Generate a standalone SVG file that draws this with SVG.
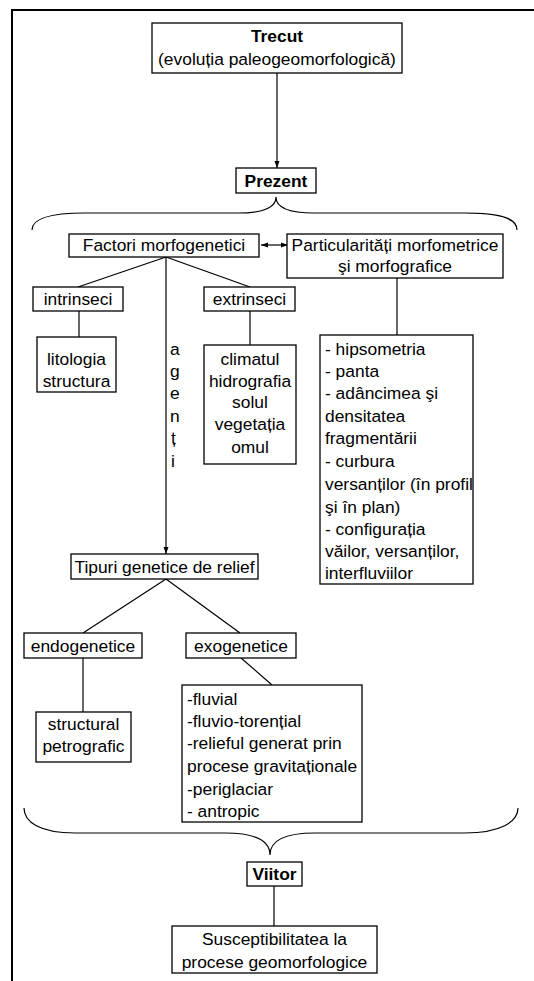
<svg xmlns="http://www.w3.org/2000/svg" width="534" height="981" viewBox="0 0 534 981">
<defs>
<style>
.box{fill:#fff;stroke:#000;stroke-width:1.3}
.t{font-family:"Liberation Sans",Arial,sans-serif;font-size:17.4px;fill:#000}
.c{text-anchor:middle}
.b{font-weight:bold}
.ln{stroke:#000;stroke-width:1.2;fill:none}
</style>
<marker id="ah" markerUnits="userSpaceOnUse" markerWidth="7" markerHeight="6" refX="7" refY="3" orient="auto-start-reverse">
<path d="M0,0.5 L7,3 L0,5.5 z" fill="#000"/>
</marker>
</defs>
<rect width="534" height="981" fill="#fff"/>
<g id="frame">
<path d="M12,981 L12,10 L534,10" fill="none" stroke="#000" stroke-width="2"/>
</g>
<g id="connectors">
<line class="ln" x1="277" y1="73" x2="277" y2="168" marker-end="url(#ah)"/>
<path class="ln" d="M32,230 C32,218 50,213 85,213 L238,213 C262,213 276,208 276,197 C276,208 290,213 314,213 L465,213 C500,213 517,218 517,230"/>
<line class="ln" x1="261" y1="245" x2="288" y2="245" marker-start="url(#ah)" marker-end="url(#ah)"/>
<line class="ln" x1="166" y1="257" x2="78" y2="287"/>
<line class="ln" x1="166" y1="257" x2="250" y2="287"/>
<line class="ln" x1="166" y1="257" x2="166" y2="554" marker-end="url(#ah)"/>
<line class="ln" x1="79" y1="311" x2="79" y2="337"/>
<line class="ln" x1="250" y1="311" x2="250" y2="345"/>
<line class="ln" x1="397" y1="278" x2="397" y2="335"/>
<line class="ln" x1="166" y1="579" x2="83" y2="633"/>
<line class="ln" x1="166" y1="579" x2="240" y2="633"/>
<line class="ln" x1="83" y1="658" x2="83" y2="712"/>
<line class="ln" x1="241" y1="658" x2="272" y2="685"/>
<path class="ln" d="M24,808 C24,822 40,833 75,833 L225,833 C255,833 270,840 270,855 C270,840 285,833 315,833 L465,833 C500,833 518,822 518,808"/>
<line class="ln" x1="274" y1="886" x2="274" y2="926"/>
</g>
<g id="trecut">
<rect class="box" x="152" y="23" width="250" height="50"/>
<text class="t c b" x="277" y="42">Trecut</text>
<text class="t c" x="277" y="65">(evoluția paleogeomorfologică)</text>
</g>
<g id="prezent">
<rect class="box" x="236" y="168" width="80" height="25"/>
<text class="t c b" x="276" y="187">Prezent</text>
</g>
<g id="factori">
<rect class="box" x="69" y="234" width="190" height="23"/>
<text class="t c" x="164" y="251">Factori morfogenetici</text>
</g>
<g id="particularitati">
<rect class="box" x="287" y="234" width="216" height="44"/>
<text class="t c" x="395" y="251">Particularități morfometrice</text>
<text class="t c" x="395" y="272">şi morfografice</text>
</g>
<g id="intrinseci">
<rect class="box" x="33" y="287" width="90" height="24"/>
<text class="t c" x="78" y="305">intrinseci</text>
</g>
<g id="extrinseci">
<rect class="box" x="204" y="287" width="91" height="24"/>
<text class="t c" x="249.5" y="305">extrinseci</text>
</g>
<g id="litologia">
<rect class="box" x="37" y="337" width="79" height="55"/>
<text class="t c" x="76.5" y="365">litologia</text>
<text class="t c" x="76.5" y="387">structura</text>
</g>
<g id="climatul">
<rect class="box" x="204" y="345" width="92" height="119"/>
<text class="t c" x="250" y="365">climatul</text>
<text class="t c" x="250" y="387">hidrografia</text>
<text class="t c" x="250" y="408">solul</text>
<text class="t c" x="250" y="430">vegetația</text>
<text class="t c" x="250" y="453">omul</text>
</g>
<g id="agenti">
<text class="t" x="170" y="355">a</text>
<text class="t" x="170" y="377">g</text>
<text class="t" x="170" y="399">e</text>
<text class="t" x="170" y="422">n</text>
<text class="t" x="171" y="444">ț</text>
<text class="t" x="171" y="467">i</text>
</g>
<g id="morfometrie">
<rect class="box" x="320" y="335" width="153" height="249"/>
<text class="t" x="325" y="355">- hipsometria</text>
<text class="t" x="325" y="377">- panta</text>
<text class="t" x="325" y="399">- adâncimea şi</text>
<text class="t" x="325" y="422">densitatea</text>
<text class="t" x="325" y="444">fragmentării</text>
<text class="t" x="325" y="467">- curbura</text>
<text class="t" x="325" y="490">versanților (în profil</text>
<text class="t" x="325" y="513">şi în plan)</text>
<text class="t" x="325" y="535">- configurația</text>
<text class="t" x="325" y="557">văilor, versanților,</text>
<text class="t" x="325" y="579">interfluviilor</text>
</g>
<g id="tipuri">
<rect class="box" x="71" y="554" width="187" height="25"/>
<text class="t c" x="164.5" y="573">Tipuri genetice de relief</text>
</g>
<g id="endogenetice">
<rect class="box" x="24" y="633" width="118" height="25"/>
<text class="t c" x="83" y="652">endogenetice</text>
</g>
<g id="exogenetice">
<rect class="box" x="186" y="633" width="110" height="25"/>
<text class="t c" x="241" y="652">exogenetice</text>
</g>
<g id="structural">
<rect class="box" x="36" y="712" width="95" height="50"/>
<text class="t c" x="83.5" y="730">structural</text>
<text class="t c" x="83.5" y="752">petrografic</text>
</g>
<g id="exo-list">
<rect class="box" x="182" y="685" width="180" height="137"/>
<text class="t" x="187" y="705">-fluvial</text>
<text class="t" x="187" y="727">-fluvio-torențial</text>
<text class="t" x="187" y="749">-relieful generat prin</text>
<text class="t" x="187" y="772">procese gravitaționale</text>
<text class="t" x="187" y="795">-periglaciar</text>
<text class="t" x="187" y="817">- antropic</text>
</g>
<g id="viitor">
<rect class="box" x="247" y="862" width="55" height="24"/>
<text class="t c b" x="274.5" y="880">Viitor</text>
</g>
<g id="susceptibilitatea">
<rect class="box" x="172" y="926" width="205" height="47"/>
<text class="t c" x="274.5" y="945">Susceptibilitatea la</text>
<text class="t c" x="274.5" y="968">procese geomorfologice</text>
</g>
</svg>
